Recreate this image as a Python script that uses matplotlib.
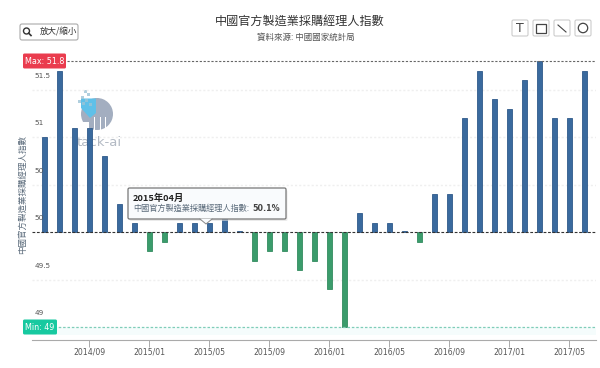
import matplotlib
matplotlib.use("Agg")
import matplotlib.pyplot as plt
from matplotlib.patches import FancyBboxPatch, Rectangle, Circle, Wedge, Polygon

plt.rcParams['font.family'] = ['Noto Sans CJK TC', 'DejaVu Sans']

months = ['2014/06','2014/07','2014/08','2014/09','2014/10','2014/11','2014/12',
          '2015/01','2015/02','2015/03','2015/04','2015/05','2015/06','2015/07','2015/08','2015/09','2015/10','2015/11','2015/12',
          '2016/01','2016/02','2016/03','2016/04','2016/05','2016/06','2016/07','2016/08','2016/09','2016/10','2016/11','2016/12',
          '2017/01','2017/02','2017/03','2017/04','2017/05','2017/06']
pmi = [51.0,51.7,51.1,51.1,50.8,50.3,50.1,
       49.8,49.9,50.1,50.1,50.1,50.2,50.01,49.7,49.8,49.8,49.6,49.7,
       49.4,49.0,50.2,50.1,50.1,50.01,49.9,50.4,50.4,51.2,51.7,51.4,
       51.3,51.6,51.8,51.2,51.2,51.7]
tick_months = ['2014/09','2015/01','2015/05','2015/09','2016/01','2016/05','2016/09','2017/01','2017/05']
y_grid = [49, 49.5, 50, 50.5, 51, 51.5]
y_labels = ['49', '49.5', '50', '50', '51', '51.5']
baseline = 50
title = '中國官方製造業採購經理人指數'
subtitle = '資料來源: 中國國家統計局'
ylabel = '中國官方製造業採購經理人指數'

W, H = 600, 368
fig = plt.figure(figsize=(W/100, H/100), dpi=100, facecolor='white')

# watermark layer, underneath the bars
bg = fig.add_axes([0, 0, 1, 1], facecolor='none', zorder=0)
bg.set_xlim(0, W); bg.set_ylim(H, 0); bg.axis('off')
bg.add_patch(Wedge((97, 114), 16, -180, 180, fc='#a3aec0', ec='none'))
bg.add_patch(Rectangle((80, 122), 9, 10, fc='white', ec='none'))
for lx in [93.5, 99.5, 105]:
    bg.add_patch(Rectangle((lx, 117), 1.3, 15, fc='white', ec='none'))
bg.add_patch(Polygon([[81, 98.5], [96, 98.5], [96, 113], [90, 118], [81, 108]], fc='#5fc0e8', ec='none'))
for p in [(84, 90), (87, 93), (81, 96), (85, 99), (89, 103), (82, 102), (78, 100)]:
    bg.add_patch(Rectangle(p, 2.5, 2.5, fc='#9cc4d6', ec='none', alpha=0.8))
bg.text(99, 142, 'tack-ai', fontsize=9.5, color='#b3bac4', ha='center', va='center', family=['DejaVu Sans'])

# main chart: left 32, right 596, top y=61 (51.8), bottom y=340
ax = fig.add_axes([32/W, 1-340/H, (596-32)/W, (340-50)/H], zorder=1)
px = 95.0
ax.set_ylim(49-13/px, 51.8+11/px)
x0 = -(44.3-32)/15
ax.set_xlim(x0, x0+(596-32)/15)
for s in ['top','left','right']:
    ax.spines[s].set_visible(False)
ax.spines['bottom'].set_color('#aaaaaa')
ax.patch.set_alpha(0)

xs = list(range(len(months)))
heights = [v-baseline for v in pmi]
colors = ['#3a6a9e' if v >= baseline else '#3b9c6c' for v in pmi]
edges = ['#2f5a8a' if v >= baseline else '#338c60' for v in pmi]
ax.bar(xs, heights, bottom=baseline, width=5.4/15, color=colors, edgecolor=edges, linewidth=0.6, zorder=3)

for g in y_grid:
    if g != 49 and g != 50:
        ax.axhline(g, color='#efefef', lw=1.0, ls=(0, (1.5, 1.5)), zorder=1)
ax.axhline(51.8, color='#666666', lw=0.8, ls=(0, (2, 1.5)), zorder=4)
ax.axhline(50, color='#333333', lw=0.8, ls=(0, (2.5, 1.5)), zorder=4)
ax.axhline(49, color='#7fcdb8', lw=0.9, ls=(0, (2, 1.5)), zorder=4)
ax.axhspan(49-8/px, 49, color='#f5fcfc', zorder=0, lw=0)

ax.set_yticks([])
ax.set_xticks([months.index(m) for m in tick_months])
ax.set_xticklabels(tick_months, fontsize=5.6, color='#555555', family=['DejaVu Sans'])
ax.tick_params(axis='x', length=5, width=0.7, color='#aaaaaa', pad=0.5)

for g, lab in zip(y_grid, y_labels):
    ax.annotate(lab, (0, g), xycoords=('axes fraction', 'data'), xytext=(2.5, 14), textcoords='offset pixels',
                fontsize=5.2, color='#555555', va='center', ha='left', family=['DejaVu Sans'])

# overlay in pixel coordinates for chrome
ov = fig.add_axes([0, 0, 1, 1], facecolor='none', zorder=2)
ov.set_xlim(0, W); ov.set_ylim(H, 0); ov.axis('off')

ov.text(300, 21.5, title, fontsize=8.7, color='#333333', ha='center', va='center')
ov.text(305.5, 37.5, subtitle, fontsize=6.1, color='#555555', ha='center', va='center')
ov.text(22, 194, ylabel, fontsize=6.1, color='#5a6a7a', rotation=90, ha='center', va='center')

# zoom button
ov.add_patch(FancyBboxPatch((20, 24), 58, 16, boxstyle='round,pad=0,rounding_size=2', fc='white', ec='#aaaaaa', lw=0.8))
ov.add_patch(Circle((26.5, 31), 3, fc='none', ec='#333333', lw=1.0))
ov.plot([28.7, 31], [33.2, 35.5], color='#333333', lw=1.2)
ov.text(58, 32, '放大/縮小', fontsize=6.1, color='#333333', ha='center', va='center')

# tool buttons
for cx in [520, 541, 562, 583]:
    ov.add_patch(FancyBboxPatch((cx-8, 20), 16, 16, boxstyle='round,pad=0,rounding_size=1.5', fc='white', ec='#cccccc', lw=0.8))
ov.text(520, 28.5, 'T', fontsize=9, color='#444444', ha='center', va='center', family=['DejaVu Sans'])
ov.add_patch(Rectangle((536, 23.5), 10, 9.5, fc='none', ec='#444444', lw=0.9))
ov.plot([558, 566], [25, 32], color='#444444', lw=0.8)
ov.add_patch(Circle((583, 28), 4.7, fc='none', ec='#444444', lw=0.9))

# max/min tags
ov.add_patch(FancyBboxPatch((23, 53.5), 43, 15, boxstyle='round,pad=0,rounding_size=1.5', fc='#ea3c4e', ec='none'))
ov.text(44.5, 61, 'Max: 51.8', fontsize=5.8, color='white', ha='center', va='center', family=['DejaVu Sans'])
ov.add_patch(FancyBboxPatch((23, 319.5), 34, 15, boxstyle='round,pad=0,rounding_size=1.5', fc='#17c9a0', ec='none'))
ov.text(40, 327, 'Min: 49', fontsize=5.8, color='white', ha='center', va='center', family=['DejaVu Sans'])

# tooltip
ov.add_patch(FancyBboxPatch((129.5, 190), 158, 31, boxstyle='round,pad=0,rounding_size=1.5', fc='#dddddd', ec='none', alpha=0.6, zorder=5))
ov.add_patch(FancyBboxPatch((128, 188), 158, 31, boxstyle='round,pad=0,rounding_size=1.5', fc='#f9fbfd', ec='#777777', lw=0.9, zorder=6))
ov.add_patch(Polygon([[200, 218.6], [212, 218.6], [206, 224]], fc='#f9fbfd', ec='none', zorder=7))
ov.plot([200, 206, 212], [219, 224, 219], color='#888888', lw=0.7, zorder=7)
ov.text(133, 198, '2015年04月', fontsize=6.7, color='#222222', weight='bold', ha='left', va='center', zorder=8)
ov.text(133, 208.5, '中國官方製造業採購經理人指數:', fontsize=5.9, color='#5a6a7a', ha='left', va='center', zorder=8)
ov.text(280, 208.5, '50.1%', fontsize=5.8, color='#444444', weight='bold', ha='right', va='center', zorder=8, family=['DejaVu Sans'])

fig.savefig('out.png', dpi=100)
